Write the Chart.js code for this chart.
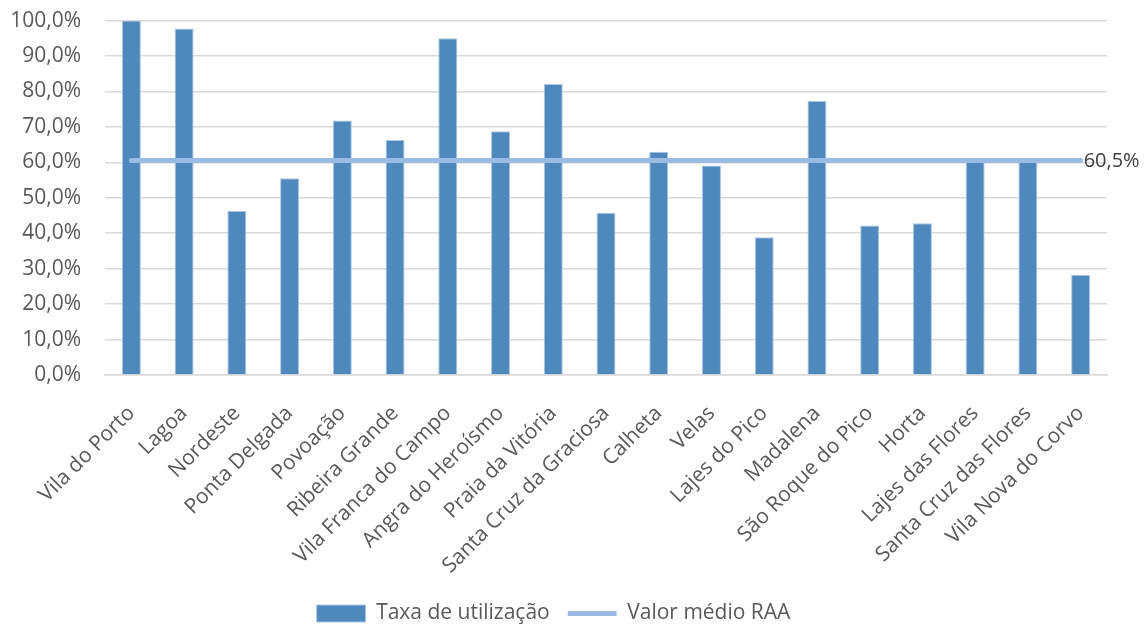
<!DOCTYPE html>
<html>
<head>
<meta charset="utf-8">
<script src="https://cdn.jsdelivr.net/npm/chart.js@4.4.0/dist/chart.umd.min.js"></script>
<style>
  html, body { margin: 0; padding: 0; background: #fff; }
  #wrap { width: 1146px; height: 624px; }
</style>
</head>
<body>
<div id="wrap"><canvas id="usageChart"></canvas></div>
<script>
const municipios = [
    'Vila do Porto', 'Lagoa', 'Nordeste', 'Ponta Delgada', 'Povoação', 'Ribeira Grande',
    'Vila Franca do Campo', 'Angra do Heroísmo', 'Praia da Vitória', 'Santa Cruz da Graciosa',
    'Calheta', 'Velas', 'Lajes do Pico', 'Madalena', 'São Roque do Pico', 'Horta',
    'Lajes das Flores', 'Santa Cruz das Flores', 'Vila Nova do Corvo'
];
const taxaUtilizacao = [100.0, 97.8, 46.3, 55.5, 71.8, 66.3, 95.0, 68.8, 82.1, 45.8,
    63.0, 59.1, 38.9, 77.3, 42.2, 42.8, 60.1, 60.3, 28.3];
const valorMedioRAA = [60.5, 60.5, 60.5, 60.5, 60.5, 60.5, 60.5, 60.5, 60.5, 60.5,
    60.5, 60.5, 60.5, 60.5, 60.5, 60.5, 60.5, 60.5, 60.5];
const yTicks = [0, 10, 20, 30, 40, 50, 60, 70, 80, 90, 100];

const FONT = 'Open Sans';
const TEXT = '#595959';

const fmt = v => v.toFixed(1).replace('.', ',') + '%';

// label "60,5%" next to the end of the average line
const endLabel = {
    id: 'endLabel',
    afterDatasetsDraw(chart) {
        const meta = chart.getDatasetMeta(1);
        const last = meta.data[meta.data.length - 1];
        const ctx = chart.ctx;
        ctx.save();
        ctx.font = '20px "' + FONT + '"';
        ctx.fillStyle = '#404040';
        ctx.textAlign = 'left';
        ctx.textBaseline = 'middle';
        ctx.fillText(fmt(valorMedioRAA[valorMedioRAA.length - 1]), last.x + 3, last.y + 1);
        ctx.restore();
    }
};

const ctx = document.getElementById('usageChart').getContext('2d');
const usageChart = new Chart(ctx, {
    data: {
        labels: municipios,
        datasets: [{
            type: 'bar',
            label: 'Taxa de utilização',
            data: taxaUtilizacao,
            backgroundColor: '#4F88BC',
            borderColor: '#A9C5E3',
            borderWidth: 1,
            barPercentage: 0.72,
            categoryPercentage: 0.5,
            pointStyle: 'rect',
            order: 2
        }, {
            type: 'line',
            label: 'Valor médio RAA',
            data: valorMedioRAA,
            borderColor: '#9BBCE2',
            backgroundColor: '#9BBCE2',
            borderWidth: 5,
            borderCapStyle: 'round',
            pointRadius: 0,
            pointStyle: 'line',
            order: 1
        }]
    },
    options: {
        responsive: true,
        maintainAspectRatio: false,
        animation: false,
        layout: { padding: { top: 0, right: 39, bottom: -10, left: 0 } },
        plugins: {
            tooltip: { enabled: false },
            legend: {
                position: 'bottom',
                labels: {
                    usePointStyle: true,
                    pointStyleWidth: 49,
                    boxHeight: 17,
                    padding: 18,
                    color: TEXT,
                    font: { family: FONT, size: 21 },
                    sort: (a, b) => a.datasetIndex - b.datasetIndex
                }
            }
        },
        scales: {
            x: {
                afterFit(scale) { scale.height = 210; },
                grid: { display: false },
                border: { color: '#D9D9D9', width: 1.5 },
                ticks: {
                    color: TEXT,
                    font: { family: FONT, size: 21 },
                    maxRotation: 45,
                    minRotation: 45,
                    autoSkip: false,
                    padding: 18
                }
            },
            y: {
                min: 0,
                max: 100,
                afterFit(scale) { scale.width = 105; },
                afterBuildTicks(scale) { scale.ticks = yTicks.map(v => ({ value: v })); },
                grid: { color: '#D9D9D9', lineWidth: 1.5, tickLength: 16, tickColor: 'rgba(0,0,0,0)' },
                border: { display: false },
                ticks: {
                    color: TEXT,
                    font: { family: FONT, size: 21 },
                    padding: 8,
                    callback: v => fmt(v)
                }
            }
        }
    },
    plugins: [endLabel]
});
</script>
</body>
</html>
